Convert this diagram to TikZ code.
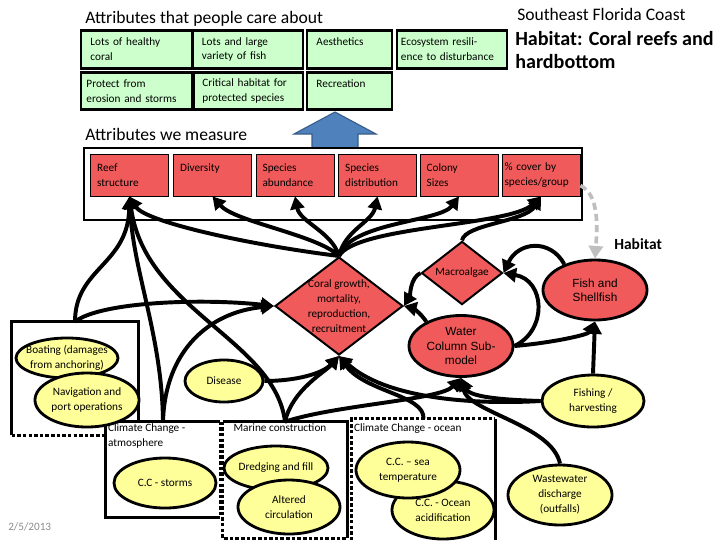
\documentclass[tikz,border=0pt]{standalone}
\usepackage{fontspec}
\setmainfont{Carlito}
\newfontfamily\arialfont{Liberation Sans}
\usetikzlibrary{arrows.meta,shapes.geometric,positioning}
\definecolor{CareGreen}{RGB}{204,255,204}
\definecolor{MeasureRed}{RGB}{240,90,90}
\definecolor{DriverYellow}{RGB}{255,255,153}
\definecolor{ArrowBlue}{RGB}{79,129,189}
\definecolor{ArrowBlueDark}{RGB}{56,93,138}
\definecolor{DashGray}{RGB}{191,191,191}
\definecolor{DateGray}{RGB}{140,140,140}
\newcommand\boxfont{\fontsize{8}{10.6}\selectfont}
\newcommand\headfont{\fontsize{12.5}{14}\selectfont}

\begin{document}
\begin{tikzpicture}[x=0.025cm, y=-0.025cm,
	care/.style={draw, line width=2pt, fill=CareGreen, minimum height=0.93cm, inner sep=0pt, align=left, font=\boxfont},
	measure/.style={draw, line width=0.6pt, fill=MeasureRed, minimum width=1.95cm, minimum height=1.05cm, text width=1.62cm, inner sep=0pt, align=left, font=\boxfont},
	driver/.style={ellipse, draw, line width=2pt, fill=DriverYellow, inner xsep=-8pt, inner ysep=-2pt, align=center, font=\boxfont},
	submodel/.style={ellipse, draw, line width=2pt, fill=MeasureRed, inner xsep=-8pt, inner ysep=-2pt, align=center, font=\arialfont\fontsize{8.4}{10}\selectfont},
	process/.style={diamond, draw, line width=1.4pt, fill=MeasureRed, inner sep=0pt},
	grp/.style={rectangle, draw=none, fill=white, inner sep=0pt},
	grpframe/.style={line width=2pt},
	gapline/.style={dash pattern=on 2.5pt off 1.5pt},
	link/.style={line width=2.8pt, -{Triangle[length=9pt,width=10pt]}},
	habitatlink/.style={line width=2.6pt, DashGray, dash pattern=on 5pt off 3pt, -{Triangle[length=9pt,width=10pt]}}
	]
	\useasboundingbox (0,0) rectangle (720,540);

	\node[anchor=west, inner sep=0pt, font=\headfont] (caretitle) at (85,19) {Attributes that people care about};
	\node[anchor=west, inner sep=0pt, font=\headfont] (measuretitle) at (85,134) {Attributes we measure};
	\node[anchor=west, inner sep=0pt, font=\headfont] (region) at (517,14) {Southeast Florida Coast};
	\node[anchor=west, inner sep=0pt, align=left, font=\bfseries\fontsize{14.3}{17}\selectfont] (habtitle) at (515,50) {Habitat: Coral reefs and\\hardbottom};
	\node[anchor=west, inner sep=0pt, font=\bfseries\fontsize{11}{13}\selectfont] (habitat) at (614,244) {Habitat};
	\node[anchor=west, inner sep=0pt, text=DateGray, font=\fontsize{8}{10}\selectfont] (date) at (8,527) {2/5/2013};

	\node[care, minimum width=2.775cm, text width=2.3cm] (healthy) at (136.5,49.5) {Lots of healthy\\coral};
	\node[care, minimum width=2.75cm, text width=2.3cm] (fishvar) at (248,49.5) {Lots and large\\variety of fish};
	\node[care, minimum width=2.125cm, text width=1.65cm] (aesth) at (349.5,49.5) {Aesthetics\\\mbox{}};
	\node[care, minimum width=2.75cm, text width=2.55cm] (resil) at (452,49.5) {Ecosystem resili-\\ence to disturbance};
	\node[care, minimum width=2.775cm, text width=2.5cm] (protect) at (136.5,91) {Protect from\\erosion and storms};
	\node[care, minimum width=2.725cm, text width=2.3cm] (critical) at (248.5,91) {Critical habitat for\\protected species};
	\node[care, minimum width=2.125cm, text width=1.65cm] (recre) at (349.5,91) {Recreation\\\mbox{}};

	\fill[ArrowBlue, draw=ArrowBlueDark, line width=0.8pt] (312,148) -- (312,134) -- (294,134) -- (335,112) -- (376,134) -- (358,134) -- (358,148) -- cycle;

	\node[draw, line width=2pt, minimum width=12.45cm, minimum height=1.8cm, inner sep=0pt] (measurebox) at (333,184) {};
	\node[measure] (reef) at (129.5,175) {Reef\\structure};
	\node[measure] (divers) at (212.5,175) {Diversity\\\mbox{}};
	\node[measure] (abund) at (295,175) {Species\\abundance};
	\node[measure] (distrib) at (377.5,175) {Species\\distribution};
	\node[measure] (colony) at (459,175) {Colony\\Sizes};
	\node[measure, text width=1.82cm] (cover) at (541,175) {\% cover by\\species/group};

	\node[grp, minimum width=3.15cm, minimum height=2.825cm] (boatbox) at (75,378.5) {};
	\draw[grpframe] (boatbox.south west) -- (boatbox.north west) -- (boatbox.north east) -- (boatbox.south east);
	\draw[grpframe, gapline] (boatbox.south west) -- (boatbox.south east);
	\node[grp, minimum width=2.85cm, minimum height=2.375cm] (atmbox) at (163,469.5) {};
	\draw[grpframe] (atmbox.north east) -- (atmbox.north west) -- (atmbox.south west) -- (atmbox.south east);
	\draw[grpframe, gapline] (atmbox.north east) -- (atmbox.south east);
	\node[grp, minimum width=3.1cm, minimum height=2.9cm, label={[anchor=north west, inner sep=1.5pt, xshift=6pt, font=\boxfont]north west:{Marine construction}}] (marbox) at (285,480) {};
	\draw[grpframe] (marbox.north west) -- (marbox.north east) -- (marbox.south east);
	\draw[grpframe, gapline] (marbox.north west) -- (marbox.south west) -- (marbox.south east);
	\node[grp, minimum width=3.575cm, minimum height=3.025cm, label={[anchor=north west, inner sep=1.5pt, yshift=-2pt, font=\boxfont]north west:{Climate Change - ocean}}] (ocnbox) at (423.5,479.5) {};
	\draw[grpframe] (ocnbox.north east) -- (ocnbox.south east);
	\draw[grpframe, gapline] (ocnbox.south west) -- (ocnbox.north west) -- (ocnbox.north east);

	\node[process, minimum width=3.2cm, minimum height=2.45cm, label={[align=center, font=\boxfont]center:{Coral growth,\\mortality,\\reproduction,\\recruitment}}] (coral) at (339,306) {};
	\node[process, minimum width=2.025cm, minimum height=1.575cm, font=\boxfont] (macro) at (462,273) {Macroalgae};
	\node[submodel, minimum width=2.6cm, minimum height=1.5cm] (fish) at (595,290) {Fish and\\Shellfish};
	\node[submodel, minimum width=2.6cm, minimum height=1.525cm] (water) at (461,346) {Water\\Column Sub-\\model};

	\node[driver, minimum width=2.55cm, minimum height=1cm] (boating) at (67,358) {Boating (damages\\from anchoring)};
	\node[driver, minimum width=2.6cm, minimum height=1.35cm] (navig) at (87,400) {Navigation and\\port operations};
	\node[anchor=north west, inner sep=1.5pt, align=left, font=\boxfont] (atmlabel) at (atmbox.north west) {Climate Change -\\atmosphere};
	\node[driver, minimum width=1.95cm, minimum height=1.05cm] (disease) at (224,381) {Disease};
	\node[driver, minimum width=2.55cm, minimum height=1.25cm] (storms) at (165,483) {C.C - storms};
	\node[driver, minimum width=2.6cm, minimum height=1.1cm] (dredge) at (276,468) {Dredging and fill};
	\node[driver, minimum width=2.55cm, minimum height=1.35cm] (altered) at (289,507) {Altered\\circulation};
	\node[driver, minimum width=2.55cm, minimum height=1.45cm] (acid) at (443,510) {C.C. - Ocean\\acidification};
	\node[driver, minimum width=2.6cm, minimum height=1.4cm] (seatemp) at (408,470) {C.C. -- sea\\temperature};
	\node[driver, minimum width=2.55cm, minimum height=1.3cm] (fishing) at (593,401) {Fishing /\\harvesting};
	\node[driver, minimum width=2.6cm, minimum height=1.5cm] (waste) at (560,495) {Wastewater\\discharge\\(outfalls)};

	\draw[link] (coral.north) .. controls (250,245) and (145,222) .. (reef.south);
	\draw[link] (coral.north) .. controls (318,235) and (235,222) .. (divers.south);
	\draw[link] (coral.north) .. controls (332,232) and (300,222) .. (abund.south);
	\draw[link] (coral.north) .. controls (345,230) and (372,222) .. (distrib.south);
	\draw[link] (coral.north) .. controls (350,222) and (440,222) .. (colony.south);
	\draw[link] (coral.north) .. controls (356,226) and (510,226) .. (cover.south);
	\draw[link] (macro.north) .. controls (465,224) and (525,222) .. (cover.south);
	\draw[link] (boatbox.north) .. controls (75,268) and (128,265) .. (reef.south);
	\draw[link] (boatbox.north) .. controls (100,302) and (200,298) .. (coral.west);
	\draw[link] (atmbox.north) .. controls (162,335) and (133,272) .. (reef.south);
	\draw[link] (atmbox.north) .. controls (165,350) and (210,312) .. (coral.west);
	\draw[link] (marbox.north) .. controls (275,340) and (145,310) .. (reef.south);
	\draw[link] (marbox.north) .. controls (292,390) and (325,372) .. (coral.south);
	\draw[link] (marbox.north) .. controls (335,405) and (440,400) .. (water.south);
	\draw[link] (disease.east) .. controls (295,381) and (322,374) .. (coral.south);
	\draw[link] (ocnbox.north) .. controls (425,395) and (365,392) .. (coral.south);
	\draw[link] (fishing.west) .. controls (470,405) and (385,398) .. (coral.south);
	\draw[link] (fishing.west) .. controls (510,400) and (470,398) .. (water.south);
	\draw[link] (waste.north) .. controls (552,425) and (468,412) .. (water.south);
	\draw[link] (fishing.north) -- (fish.south);
	\draw[link] (water.east) .. controls (550,343) and (588,335) .. (fish.south);
	\draw[link] (water.east) .. controls (548,330) and (545,280) .. (macro.east);
	\draw[link] (fish.140) .. controls (550,238) and (518,242) .. (macro.east);
	\draw[link] (macro.west) .. controls (410,278) and (410,296) .. (coral.east);
	\draw[link] (water.145) .. controls (420,312) and (412,308) .. (coral.east);
	\draw[habitatlink] (cover.-15) .. controls (600,195) and (597,230) .. (fish.north);
\end{tikzpicture}
\end{document}
